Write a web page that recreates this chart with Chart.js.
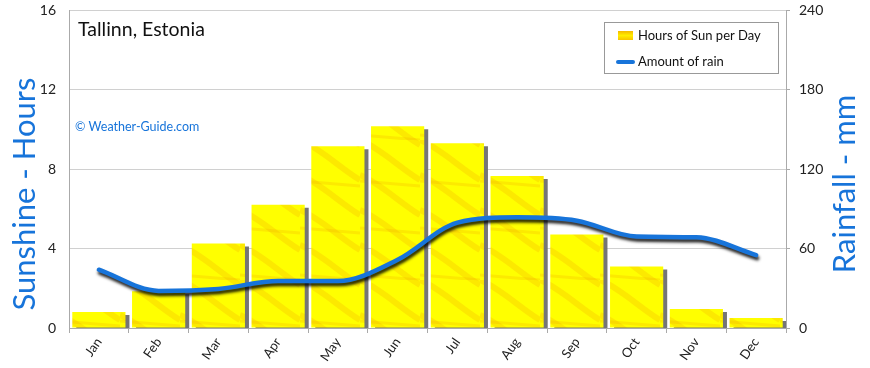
<!DOCTYPE html>
<html>
<head>
<meta charset="utf-8">
<script src="https://cdn.jsdelivr.net/npm/chart.js@4.4.1/dist/chart.umd.min.js"></script>
<style>
  html, body { margin: 0; padding: 0; background: #fff; }
  #wrap { width: 870px; height: 368px; }
</style>
</head>
<body>
<div id="wrap"><canvas id="chart" width="870" height="368"></canvas></div>
<script>
const months = ['Jan', 'Feb', 'Mar', 'Apr', 'May', 'Jun', 'Jul', 'Aug', 'Sep', 'Oct', 'Nov', 'Dec'];
const sunHours = [0.8, 1.85, 4.25, 6.2, 9.15, 10.15, 9.3, 7.65, 4.7, 3.1, 0.95, 0.5];
const rainMm = [44, 28, 29.5, 35.5, 35.5, 51.5, 79.5, 83.5, 81, 69, 68.5, 55];
const sunTicks = [0, 4, 8, 12, 16];
const rainTicks = [0, 60, 120, 180, 240];

const BLUE = '#1774da';
const FONT = 'Lato, "Open Sans", sans-serif';

// yellow texture with orange streaks, roughly like the original bars
function makeSunPattern() {
  const c = document.createElement('canvas');
  c.width = 60; c.height = 140;
  const g = c.getContext('2d');
  g.fillStyle = '#ffff00';
  g.fillRect(0, 0, 60, 140);
  g.strokeStyle = 'rgba(245,175,0,0.28)';
  g.lineWidth = 6;
  for (let i = -140; i < 140; i += 35) {
    g.beginPath();
    g.moveTo(0, i);
    g.bezierCurveTo(20, i + 8, 40, i + 28, 60, i + 40);
    g.stroke();
  }
  g.strokeStyle = 'rgba(240,160,0,0.22)';
  g.lineWidth = 3;
  for (let i = -100; i < 160; i += 47) {
    g.beginPath();
    g.moveTo(0, i);
    g.lineTo(60, i + 5);
    g.stroke();
  }
  return g.createPattern(c, 'repeat');
}

const shadowPlugin = {
  id: 'shadows',
  beforeDatasetDraw(chart, args) {
    const ctx = chart.ctx;
    ctx.save();
    if (args.meta.type === 'bar') {
      ctx.shadowColor = 'rgba(110,110,110,0.95)';
      ctx.shadowBlur = 1;
      ctx.shadowOffsetX = 4;
      ctx.shadowOffsetY = 3;
    } else {
      ctx.shadowColor = 'rgba(0,0,0,0.85)';
      ctx.shadowBlur = 3;
      ctx.shadowOffsetX = 1;
      ctx.shadowOffsetY = 3;
    }
  },
  afterDatasetDraw(chart) {
    chart.ctx.restore();
  }
};

const textPlugin = {
  id: 'texts',
  afterDraw(chart) {
    const ctx = chart.ctx;
    ctx.save();
    ctx.textBaseline = 'middle';
    ctx.textAlign = 'left';
    ctx.fillStyle = '#111';
    ctx.font = '19.5px ' + FONT;
    ctx.fillText('Tallinn, Estonia', 78, 30);
    ctx.fillStyle = BLUE;
    ctx.font = '12.5px ' + FONT;
    ctx.fillText('\u00A9 Weather-Guide.com', 75, 127);

    // axis titles, sitting a little below the middle as in the original
    ctx.font = '31px ' + FONT;
    ctx.textAlign = 'center';
    ctx.save();
    ctx.translate(25, 194);
    ctx.rotate(-Math.PI / 2);
    ctx.fillText('Sunshine - Hours', 0, 0);
    ctx.restore();
    ctx.save();
    ctx.translate(845, 184);
    ctx.rotate(-Math.PI / 2);
    ctx.fillText('Rainfall - mm', 0, 0);
    ctx.restore();
    ctx.textAlign = 'left';

    // legend box
    ctx.fillStyle = '#fff';
    ctx.fillRect(604.5, 22.5, 174, 51);
    ctx.strokeStyle = '#999';
    ctx.lineWidth = 1;
    ctx.strokeRect(604.5, 22.5, 174, 51);
    const grad = ctx.createLinearGradient(0, 31, 0, 40);
    grad.addColorStop(0, '#f5b800');
    grad.addColorStop(0.5, '#ffee00');
    grad.addColorStop(1, '#f8c400');
    ctx.fillStyle = grad;
    ctx.fillRect(618, 31, 15, 9);
    ctx.strokeStyle = BLUE;
    ctx.lineWidth = 4;
    ctx.lineCap = 'round';
    ctx.beginPath();
    ctx.moveTo(618, 62);
    ctx.lineTo(633, 62);
    ctx.stroke();
    ctx.fillStyle = '#111';
    ctx.font = '13px ' + FONT;
    ctx.fillText(chart.data.datasets[1].label, 638, 36);
    ctx.fillText(chart.data.datasets[0].label, 638, 62);
    ctx.restore();
  }
};

function fixVertical(width) {
  return function (scale) {
    scale.width = width;
    scale.paddingTop = 0;
    scale.paddingBottom = 0;
  };
}

const ctx = document.getElementById('chart').getContext('2d');
new Chart(ctx, {
  data: {
    labels: months,
    datasets: [
      {
        type: 'line',
        label: 'Amount of rain',
        data: rainMm,
        yAxisID: 'y1',
        borderColor: BLUE,
        borderWidth: 4.5,
        cubicInterpolationMode: 'monotone',
        pointRadius: 0,
        borderCapStyle: 'round',
        order: 1
      },
      {
        type: 'bar',
        label: 'Hours of Sun per Day',
        data: sunHours,
        yAxisID: 'y',
        backgroundColor: makeSunPattern(),
        borderWidth: 0,
        barPercentage: 0.89,
        categoryPercentage: 1.0,
        order: 2
      }
    ]
  },
  options: {
    responsive: false,
    animation: false,
    layout: { padding: { top: 10, left: 0, right: 0, bottom: 0 } },
    plugins: {
      legend: { display: false },
      tooltip: { enabled: false }
    },
    scales: {
      x: {
        offset: true,
        grid: { display: true, drawOnChartArea: false, drawTicks: true, tickLength: 5, color: '#aaa', offset: true },
        border: { color: '#aaa' },
        ticks: { color: '#222', font: { family: FONT, size: 13 }, maxRotation: 55, minRotation: 55, padding: 2 },
        afterFit(scale) {
          scale.height = 40;
          scale.paddingLeft = 0;
          scale.paddingRight = 0;
        }
      },
      y: {
        position: 'left',
        min: 0, max: 16,
        afterBuildTicks(scale) { scale.ticks = sunTicks.map(v => ({ value: v })); },
        grid: { color: '#d0d0d0', drawTicks: false },
        border: { color: '#aaa' },
        ticks: { color: '#222', font: { family: FONT, size: 14 }, padding: 13 },
        afterFit: fixVertical(69)
      },
      y1: {
        position: 'right',
        min: 0, max: 240,
        afterBuildTicks(scale) { scale.ticks = rainTicks.map(v => ({ value: v })); },
        grid: { drawOnChartArea: false, drawTicks: true, tickLength: 4, color: '#aaa' },
        border: { color: '#aaa' },
        ticks: { color: '#222', font: { family: FONT, size: 14 }, padding: 9 },
        afterFit: fixVertical(84)
      }
    }
  },
  plugins: [shadowPlugin, textPlugin]
});
</script>
</body>
</html>
